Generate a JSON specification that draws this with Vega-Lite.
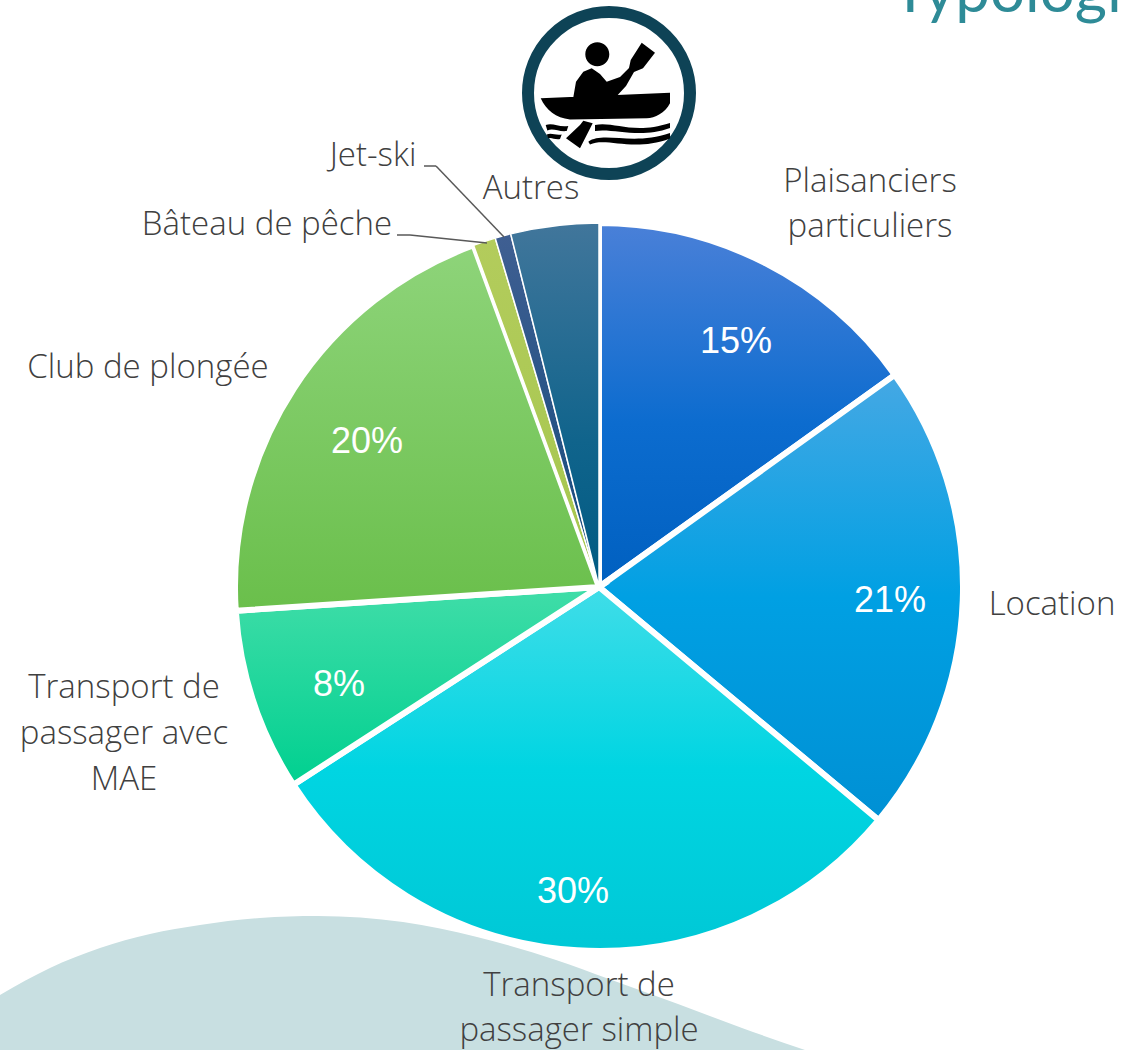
{"$schema":"https://vega.github.io/schema/vega-lite/v6.json","width":1122,"height":1050,"padding":0,"autosize":{"type":"none"},"background":"white","view":{"stroke":null},"config":{"axis":{"disable":true}},
"data":{"values":[
{"order":1,"name":"Plaisanciers particuliers","label":"Plaisanciers\nparticuliers","pct":"15%","value":15.1},
{"order":2,"name":"Location","label":"Location","pct":"21%","value":20.96},
{"order":3,"name":"Transport de passager simple","label":"Transport de\npassager simple","pct":"30%","value":29.8},
{"order":4,"name":"Transport de passager avec MAE","label":"Transport de\npassager avec\nMAE","pct":"8%","value":8.1},
{"order":5,"name":"Club de plongée","label":"Club de plongée","pct":"20%","value":20.44},
{"order":6,"name":"Bâteau de pêche","label":"Bâteau de pêche","pct":"1%","value":1.0},
{"order":7,"name":"Jet-ski","label":"Jet-ski","pct":"1%","value":0.7},
{"order":8,"name":"Autres","label":"Autres","pct":"4%","value":3.9}
]},
"layer":[
{"data":{"values":[{"x":0,"y":995},{"x":50,"y":968},{"x":100,"y":948},{"x":150,"y":934},{"x":200,"y":925},{"x":260,"y":918},{"x":318,"y":916},{"x":403,"y":922},{"x":477,"y":937},{"x":556,"y":960},{"x":609,"y":979},{"x":678,"y":1004},{"x":742,"y":1028},{"x":805,"y":1050}]},
"mark":{"type":"area","interpolate":"monotone","color":"#c8dfe1"},
"encoding":{"x":{"field":"x","type":"quantitative","scale":{"domain":[0,1122],"nice":false,"zero":false},"axis":null},"y":{"field":"y","type":"quantitative","scale":{"domain":[1050,0],"nice":false,"zero":false},"axis":null},"y2":{"datum":1050}}},
{"data":{"values":[{"t":"Typologi"}]},"mark":{"type":"text","align":"left","baseline":"alphabetic","font":"Lato","fontSize":62,"fontWeight":400,"color":"#2e8b97"},
"encoding":{"x":{"datum":892,"type":"quantitative","scale":{"domain":[0,1122]},"axis":null},"y":{"datum":12,"type":"quantitative","scale":{"domain":[1050,0]},"axis":null},"text":{"field":"t"}}},
{"data":{"values":[{"t":"icon"}]},"mark":{"type":"point","shape":"circle","filled":false,"fill":"white","fillOpacity":1,"stroke":"#0e4356","strokeWidth":12,"strokeOpacity":1,"opacity":1,"size":26244},
"encoding":{"x":{"datum":609,"type":"quantitative","scale":{"domain":[0,1122]},"axis":null},"y":{"datum":93,"type":"quantitative","scale":{"domain":[1050,0]},"axis":null}}},
{"data":{"values":[{"t":"icon"}]},"mark":{"type":"point","filled":true,"fill":"black","opacity":1,"size":40000,"shape":"M-0.237,-0.387A0.12,0.12 0 1 1 0.003,-0.387A0.12,0.12 0 1 1 -0.237,-0.387Z M-0.36,0.06L-0.33,-0.113L-0.257,-0.213L-0.173,-0.247L-0.09,-0.19L-0.023,-0.113L0.11,-0.16L0.2,-0.25L0.217,-0.33L0.327,-0.503L0.46,-0.403L0.34,-0.247L0.25,-0.21L0.17,-0.07L0.05,0.06Z M-0.683,0.053L0.61,-0.003L0.61,0.103C0.56,0.2 0.46,0.25 0.377,0.253L-0.39,0.265C-0.53,0.25 -0.63,0.17 -0.683,0.053Z M-0.257,0.277L-0.163,0.303L-0.29,0.553L-0.43,0.453L-0.29,0.32Z M-0.14,0.32C0.043,0.28 0.243,0.42 0.61,0.3L0.61,0.35C0.31,0.46 0.043,0.35 -0.14,0.38Z M-0.207,0.487C-0.057,0.38 0.243,0.53 0.61,0.4L0.61,0.455C0.243,0.595 -0.023,0.44 -0.19,0.515Z M-0.633,0.32C-0.557,0.295 -0.507,0.345 -0.407,0.33L-0.423,0.38C-0.507,0.39 -0.557,0.345 -0.617,0.375Z M-0.623,0.415C-0.573,0.395 -0.54,0.425 -0.473,0.415L-0.49,0.46C-0.54,0.47 -0.573,0.44 -0.607,0.452Z"},
"encoding":{"x":{"datum":609,"type":"quantitative","scale":{"domain":[0,1122]},"axis":null},"y":{"datum":93,"type":"quantitative","scale":{"domain":[1050,0]},"axis":null}}},
{"transform":[{"stack":"value","groupby":[],"sort":[{"field":"order"}],"as":["v0","v1"]},{"filter":"datum.name==='Plaisanciers particuliers'"}],"mark":{"type":"arc","outerRadius":364,"stroke":"white","strokeWidth":6,"fill":{"gradient":"linear","x1":0,"y1":0,"x2":0,"y2":1,"stops":[{"offset":0,"color":"#4a80d8"},{"offset":0.55,"color":"#0c6ccf"},{"offset":1,"color":"#0060c0"}]}},"encoding":{"x":{"datum":599,"type":"quantitative","scale":{"domain":[0,1122]},"axis":null},"y":{"datum":587,"type":"quantitative","scale":{"domain":[1050,0]},"axis":null},"theta":{"field":"v0","type":"quantitative","scale":{"domain":[0,100],"range":[0,6.283185]}},"theta2":{"field":"v1"}}},
{"transform":[{"stack":"value","groupby":[],"sort":[{"field":"order"}],"as":["v0","v1"]},{"filter":"datum.name==='Location'"}],"mark":{"type":"arc","outerRadius":364,"stroke":"white","strokeWidth":6,"fill":{"gradient":"linear","x1":0,"y1":0,"x2":0,"y2":1,"stops":[{"offset":0,"color":"#45a8e4"},{"offset":0.5,"color":"#00a0e3"},{"offset":1,"color":"#0090d4"}]}},"encoding":{"x":{"datum":599,"type":"quantitative","scale":{"domain":[0,1122]},"axis":null},"y":{"datum":587,"type":"quantitative","scale":{"domain":[1050,0]},"axis":null},"theta":{"field":"v0","type":"quantitative","scale":{"domain":[0,100],"range":[0,6.283185]}},"theta2":{"field":"v1"}}},
{"transform":[{"stack":"value","groupby":[],"sort":[{"field":"order"}],"as":["v0","v1"]},{"filter":"datum.name==='Transport de passager simple'"}],"mark":{"type":"arc","outerRadius":364,"stroke":"white","strokeWidth":6,"fill":{"gradient":"linear","x1":0,"y1":0,"x2":0,"y2":1,"stops":[{"offset":0,"color":"#40dde8"},{"offset":0.5,"color":"#00d5e2"},{"offset":1,"color":"#00c8d6"}]}},"encoding":{"x":{"datum":599,"type":"quantitative","scale":{"domain":[0,1122]},"axis":null},"y":{"datum":587,"type":"quantitative","scale":{"domain":[1050,0]},"axis":null},"theta":{"field":"v0","type":"quantitative","scale":{"domain":[0,100],"range":[0,6.283185]}},"theta2":{"field":"v1"}}},
{"transform":[{"stack":"value","groupby":[],"sort":[{"field":"order"}],"as":["v0","v1"]},{"filter":"datum.name==='Transport de passager avec MAE'"}],"mark":{"type":"arc","outerRadius":364,"stroke":"white","strokeWidth":6,"fill":{"gradient":"linear","x1":0,"y1":0,"x2":0,"y2":1,"stops":[{"offset":0,"color":"#40dda8"},{"offset":1,"color":"#00d090"}]}},"encoding":{"x":{"datum":599,"type":"quantitative","scale":{"domain":[0,1122]},"axis":null},"y":{"datum":587,"type":"quantitative","scale":{"domain":[1050,0]},"axis":null},"theta":{"field":"v0","type":"quantitative","scale":{"domain":[0,100],"range":[0,6.283185]}},"theta2":{"field":"v1"}}},
{"transform":[{"stack":"value","groupby":[],"sort":[{"field":"order"}],"as":["v0","v1"]},{"filter":"datum.name==='Club de plongée'"}],"mark":{"type":"arc","outerRadius":364,"stroke":"white","strokeWidth":6,"fill":{"gradient":"linear","x1":0,"y1":0,"x2":0,"y2":1,"stops":[{"offset":0,"color":"#8ed47a"},{"offset":1,"color":"#6abf4b"}]}},"encoding":{"x":{"datum":599,"type":"quantitative","scale":{"domain":[0,1122]},"axis":null},"y":{"datum":587,"type":"quantitative","scale":{"domain":[1050,0]},"axis":null},"theta":{"field":"v0","type":"quantitative","scale":{"domain":[0,100],"range":[0,6.283185]}},"theta2":{"field":"v1"}}},
{"transform":[{"stack":"value","groupby":[],"sort":[{"field":"order"}],"as":["v0","v1"]},{"filter":"datum.name==='Bâteau de pêche'"}],"mark":{"type":"arc","outerRadius":364,"stroke":"white","strokeWidth":1.5,"fill":{"gradient":"linear","x1":0,"y1":0,"x2":0,"y2":1,"stops":[{"offset":0,"color":"#b3cc5c"},{"offset":1,"color":"#a5c64e"}]}},"encoding":{"x":{"datum":599,"type":"quantitative","scale":{"domain":[0,1122]},"axis":null},"y":{"datum":587,"type":"quantitative","scale":{"domain":[1050,0]},"axis":null},"theta":{"field":"v0","type":"quantitative","scale":{"domain":[0,100],"range":[0,6.283185]}},"theta2":{"field":"v1"}}},
{"transform":[{"stack":"value","groupby":[],"sort":[{"field":"order"}],"as":["v0","v1"]},{"filter":"datum.name==='Jet-ski'"}],"mark":{"type":"arc","outerRadius":364,"stroke":"white","strokeWidth":1.5,"fill":{"gradient":"linear","x1":0,"y1":0,"x2":0,"y2":1,"stops":[{"offset":0,"color":"#3f5f92"},{"offset":1,"color":"#144a7c"}]}},"encoding":{"x":{"datum":599,"type":"quantitative","scale":{"domain":[0,1122]},"axis":null},"y":{"datum":587,"type":"quantitative","scale":{"domain":[1050,0]},"axis":null},"theta":{"field":"v0","type":"quantitative","scale":{"domain":[0,100],"range":[0,6.283185]}},"theta2":{"field":"v1"}}},
{"transform":[{"stack":"value","groupby":[],"sort":[{"field":"order"}],"as":["v0","v1"]},{"filter":"datum.name==='Autres'"}],"mark":{"type":"arc","outerRadius":364,"stroke":"white","strokeWidth":1.5,"fill":{"gradient":"linear","x1":0,"y1":0,"x2":0,"y2":1,"stops":[{"offset":0,"color":"#41769b"},{"offset":0.6,"color":"#10648c"},{"offset":1,"color":"#005a82"}]}},"encoding":{"x":{"datum":599,"type":"quantitative","scale":{"domain":[0,1122]},"axis":null},"y":{"datum":587,"type":"quantitative","scale":{"domain":[1050,0]},"axis":null},"theta":{"field":"v0","type":"quantitative","scale":{"domain":[0,100],"range":[0,6.283185]}},"theta2":{"field":"v1"}}},
{"transform":[{"filter":"datum.name==='Bâteau de pêche'"}],"mark":{"type":"rule","stroke":"#595959","strokeWidth":1.5},"encoding":{"x":{"datum":397,"type":"quantitative","scale":{"domain":[0,1122]},"axis":null},"x2":{"datum":410},"y":{"datum":235,"type":"quantitative","scale":{"domain":[1050,0]},"axis":null},"y2":{"datum":235}}},
{"transform":[{"filter":"datum.name==='Bâteau de pêche'"}],"mark":{"type":"rule","stroke":"#595959","strokeWidth":1.5},"encoding":{"x":{"datum":410,"type":"quantitative","scale":{"domain":[0,1122]},"axis":null},"x2":{"datum":487},"y":{"datum":235,"type":"quantitative","scale":{"domain":[1050,0]},"axis":null},"y2":{"datum":243}}},
{"transform":[{"filter":"datum.name==='Jet-ski'"}],"mark":{"type":"rule","stroke":"#595959","strokeWidth":1.5},"encoding":{"x":{"datum":424,"type":"quantitative","scale":{"domain":[0,1122]},"axis":null},"x2":{"datum":436},"y":{"datum":166,"type":"quantitative","scale":{"domain":[1050,0]},"axis":null},"y2":{"datum":166}}},
{"transform":[{"filter":"datum.name==='Jet-ski'"}],"mark":{"type":"rule","stroke":"#595959","strokeWidth":1.5},"encoding":{"x":{"datum":436,"type":"quantitative","scale":{"domain":[0,1122]},"axis":null},"x2":{"datum":504},"y":{"datum":166,"type":"quantitative","scale":{"domain":[1050,0]},"axis":null},"y2":{"datum":237}}},
{"transform":[{"filter":"datum.name==='Plaisanciers particuliers'"}],"mark":{"type":"text","font":"Open Sans","fontWeight":300,"fontSize":33,"color":"#404040","lineBreak":"\n","lineHeight":45},"encoding":{"x":{"datum":870,"type":"quantitative","scale":{"domain":[0,1122]},"axis":null},"y":{"datum":182,"type":"quantitative","scale":{"domain":[1050,0]},"axis":null},"text":{"field":"label"}}},
{"transform":[{"filter":"datum.name==='Location'"}],"mark":{"type":"text","font":"Open Sans","fontWeight":300,"fontSize":33,"color":"#404040","lineBreak":"\n","lineHeight":45},"encoding":{"x":{"datum":1052,"type":"quantitative","scale":{"domain":[0,1122]},"axis":null},"y":{"datum":605,"type":"quantitative","scale":{"domain":[1050,0]},"axis":null},"text":{"field":"label"}}},
{"transform":[{"filter":"datum.name==='Transport de passager simple'"}],"mark":{"type":"text","font":"Open Sans","fontWeight":300,"fontSize":33,"color":"#404040","lineBreak":"\n","lineHeight":45},"encoding":{"x":{"datum":579,"type":"quantitative","scale":{"domain":[0,1122]},"axis":null},"y":{"datum":986,"type":"quantitative","scale":{"domain":[1050,0]},"axis":null},"text":{"field":"label"}}},
{"transform":[{"filter":"datum.name==='Transport de passager avec MAE'"}],"mark":{"type":"text","font":"Open Sans","fontWeight":300,"fontSize":33,"color":"#404040","lineBreak":"\n","lineHeight":46},"encoding":{"x":{"datum":124,"type":"quantitative","scale":{"domain":[0,1122]},"axis":null},"y":{"datum":688,"type":"quantitative","scale":{"domain":[1050,0]},"axis":null},"text":{"field":"label"}}},
{"transform":[{"filter":"datum.name==='Club de plongée'"}],"mark":{"type":"text","font":"Open Sans","fontWeight":300,"fontSize":33,"color":"#404040","lineBreak":"\n","lineHeight":45},"encoding":{"x":{"datum":148,"type":"quantitative","scale":{"domain":[0,1122]},"axis":null},"y":{"datum":368,"type":"quantitative","scale":{"domain":[1050,0]},"axis":null},"text":{"field":"label"}}},
{"transform":[{"filter":"datum.name==='Bâteau de pêche'"}],"mark":{"type":"text","font":"Open Sans","fontWeight":300,"fontSize":33,"color":"#404040","lineBreak":"\n","lineHeight":45},"encoding":{"x":{"datum":267,"type":"quantitative","scale":{"domain":[0,1122]},"axis":null},"y":{"datum":225,"type":"quantitative","scale":{"domain":[1050,0]},"axis":null},"text":{"field":"label"}}},
{"transform":[{"filter":"datum.name==='Jet-ski'"}],"mark":{"type":"text","font":"Open Sans","fontWeight":300,"fontSize":33,"color":"#404040","lineBreak":"\n","lineHeight":45},"encoding":{"x":{"datum":373,"type":"quantitative","scale":{"domain":[0,1122]},"axis":null},"y":{"datum":156,"type":"quantitative","scale":{"domain":[1050,0]},"axis":null},"text":{"field":"label"}}},
{"transform":[{"filter":"datum.name==='Autres'"}],"mark":{"type":"text","font":"Open Sans","fontWeight":300,"fontSize":33,"color":"#404040","lineBreak":"\n","lineHeight":45},"encoding":{"x":{"datum":531,"type":"quantitative","scale":{"domain":[0,1122]},"axis":null},"y":{"datum":189,"type":"quantitative","scale":{"domain":[1050,0]},"axis":null},"text":{"field":"label"}}},
{"transform":[{"filter":"datum.name==='Plaisanciers particuliers'"}],"mark":{"type":"text","font":"Liberation Sans","fontSize":36,"color":"white"},"encoding":{"x":{"datum":736,"type":"quantitative","scale":{"domain":[0,1122]},"axis":null},"y":{"datum":342,"type":"quantitative","scale":{"domain":[1050,0]},"axis":null},"text":{"field":"pct"}}},
{"transform":[{"filter":"datum.name==='Location'"}],"mark":{"type":"text","font":"Liberation Sans","fontSize":36,"color":"white"},"encoding":{"x":{"datum":890,"type":"quantitative","scale":{"domain":[0,1122]},"axis":null},"y":{"datum":601,"type":"quantitative","scale":{"domain":[1050,0]},"axis":null},"text":{"field":"pct"}}},
{"transform":[{"filter":"datum.name==='Transport de passager simple'"}],"mark":{"type":"text","font":"Liberation Sans","fontSize":36,"color":"white"},"encoding":{"x":{"datum":573,"type":"quantitative","scale":{"domain":[0,1122]},"axis":null},"y":{"datum":892,"type":"quantitative","scale":{"domain":[1050,0]},"axis":null},"text":{"field":"pct"}}},
{"transform":[{"filter":"datum.name==='Transport de passager avec MAE'"}],"mark":{"type":"text","font":"Liberation Sans","fontSize":36,"color":"white"},"encoding":{"x":{"datum":339,"type":"quantitative","scale":{"domain":[0,1122]},"axis":null},"y":{"datum":685,"type":"quantitative","scale":{"domain":[1050,0]},"axis":null},"text":{"field":"pct"}}},
{"transform":[{"filter":"datum.name==='Club de plongée'"}],"mark":{"type":"text","font":"Liberation Sans","fontSize":36,"color":"white"},"encoding":{"x":{"datum":367,"type":"quantitative","scale":{"domain":[0,1122]},"axis":null},"y":{"datum":442,"type":"quantitative","scale":{"domain":[1050,0]},"axis":null},"text":{"field":"pct"}}}
]}
